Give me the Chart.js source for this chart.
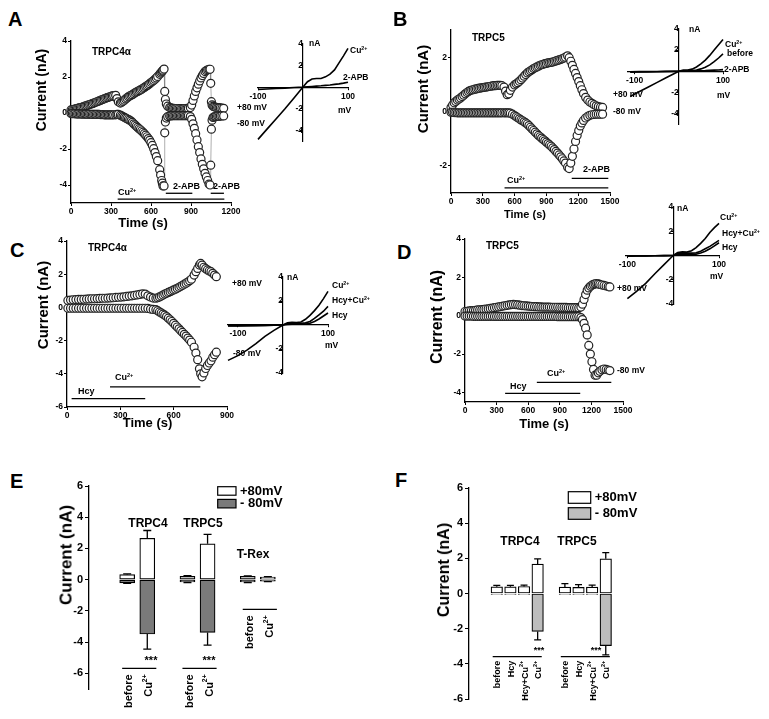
<!DOCTYPE html>
<html>
<head>
<meta charset="utf-8">
<script src="https://cdn.jsdelivr.net/npm/chart.js@4.4.1/dist/chart.umd.min.js"></script>
<style>
body{margin:0;background:#fff}
#fig{position:relative;width:769px;height:719px;overflow:hidden;background:#fff}
#fig canvas{position:absolute}
.t{position:absolute;font-family:"Liberation Sans",Arial,sans-serif;font-weight:bold;white-space:nowrap;line-height:1;color:#000}
.t sup{font-size:62%;position:relative;top:-0.5em;vertical-align:baseline;line-height:0}
</style>
</head>
<body>
<div id="fig"></div>
<script>
// ---- time courses (s, nA) ----
const tA = [0,10,20,30,40,50,60,70,80,90,100,110,120,130,140,150,160,170,180,190,200,210,220,230,240,250,260,270,280,290,300,310,320,
  335,345,355,
  370,380,390,400,410,420,430,440,450,460,470,480,490,500,510,520,530,540,550,560,570,580,590,600,610,620,630,640,650,
  665,672,680,685,690,698,
  703,708,715,725,740,
  750,760,770,780,790,800,810,820,830,840,850,860,870,880,
  895,905,915,925,935,945,955,965,975,985,995,1005,1015,1025,1035,
  1043,1048,1053,1058,1065,1072,1080,1090,1100,1110,1120,1132,1145];
const plusA = [0.17,0.18,0.2,0.22,0.24,0.26,0.28,0.3,0.32,0.34,0.37,0.4,0.42,0.44,0.47,0.5,0.52,0.55,0.58,0.61,0.64,0.67,0.7,0.73,0.76,0.79,0.82,0.85,0.87,0.9,0.92,0.95,0.97,
  0.98,0.8,0.62,
  0.55,0.6,0.65,0.71,0.78,0.84,0.9,0.94,0.98,1.02,1.07,1.12,1.16,1.2,1.24,1.28,1.32,1.37,1.42,1.47,1.52,1.57,1.63,1.69,1.75,1.81,1.88,1.95,2.03,
  2.15,2.22,2.28,2.33,2.38,2.44,
  1.2,0.75,0.5,0.38,0.3,
  0.28,0.26,0.26,0.25,0.25,0.25,0.25,0.24,0.24,0.24,0.25,0.25,0.26,0.26,
  0.3,0.44,0.7,0.95,1.2,1.4,1.6,1.78,1.95,2.08,2.2,2.3,2.36,2.4,2.42,
  2.43,1.65,0.63,0.45,0.38,0.35,0.33,0.31,0.3,0.29,0.28,0.27,0.26];
const minusA = [-0.03,-0.03,-0.04,-0.04,-0.05,-0.05,-0.05,-0.05,-0.06,-0.06,-0.06,-0.06,-0.07,-0.07,-0.07,-0.07,-0.08,-0.08,-0.08,-0.08,-0.08,-0.08,-0.09,-0.09,-0.09,-0.1,-0.1,-0.1,-0.1,-0.1,-0.1,-0.1,-0.1,
  -0.1,-0.08,-0.08,
  -0.12,-0.16,-0.2,-0.24,-0.28,-0.32,-0.36,-0.4,-0.45,-0.52,-0.6,-0.66,-0.73,-0.8,-0.87,-0.93,-1.0,-1.07,-1.15,-1.23,-1.32,-1.42,-1.52,-1.65,-1.8,-1.98,-2.2,-2.42,-2.65,
  -3.15,-3.45,-3.75,-3.9,-4.05,-4.05,
  -1.1,-0.5,-0.28,-0.2,-0.16,
  -0.16,-0.15,-0.15,-0.15,-0.15,-0.15,-0.15,-0.15,-0.15,-0.15,-0.15,-0.15,-0.15,-0.15,
  -0.2,-0.35,-0.6,-0.85,-1.15,-1.5,-1.87,-2.2,-2.55,-2.85,-3.1,-3.35,-3.55,-3.75,-3.95,
  -4.0,-2.9,-0.9,-0.4,-0.25,-0.22,-0.2,-0.19,-0.18,-0.18,-0.17,-0.16,-0.16];

const tB = [0,15,30,45,60,75,90,105,120,135,150,165,180,195,210,225,240,255,270,285,300,315,330,345,360,375,390,405,420,435,450,465,480,
  500,515,530,545,560,580,600,
  615,630,645,660,675,690,705,720,735,750,765,780,795,810,825,840,855,870,885,900,915,930,945,960,975,990,1005,1020,1035,1050,1065,1080,
  1100,1115,1130,1145,1160,1175,1190,1205,1220,1235,1250,
  1270,1290,1310,1330,1350,1370,1390,1410,1430];
const plusB = [0.15,0.24,0.32,0.37,0.42,0.46,0.5,0.55,0.6,0.65,0.7,0.74,0.77,0.79,0.8,0.82,0.83,0.85,0.86,0.87,0.88,0.89,0.9,0.91,0.92,0.93,0.94,0.95,0.95,0.96,0.96,0.96,0.95,
  0.9,0.75,0.62,0.65,0.78,0.9,0.98,
  1.02,1.06,1.11,1.17,1.23,1.3,1.36,1.42,1.46,1.5,1.54,1.58,1.61,1.64,1.67,1.7,1.72,1.74,1.76,1.77,1.79,1.8,1.81,1.82,1.84,1.86,1.88,1.9,1.92,1.94,1.97,2.0,
  2.05,1.98,1.85,1.7,1.55,1.4,1.25,1.1,0.95,0.8,0.66,
  0.52,0.42,0.35,0.3,0.25,0.21,0.18,0.16,0.15];
const minusB = [-0.03,-0.03,-0.04,-0.04,-0.05,-0.05,-0.05,-0.05,-0.05,-0.05,-0.05,-0.05,-0.05,-0.05,-0.05,-0.05,-0.05,-0.05,-0.05,-0.05,-0.05,-0.05,-0.05,-0.05,-0.05,-0.05,-0.05,-0.05,-0.05,-0.05,-0.05,-0.05,-0.05,
  -0.05,-0.05,-0.05,-0.05,-0.06,-0.1,-0.15,
  -0.19,-0.23,-0.27,-0.31,-0.34,-0.38,-0.42,-0.46,-0.52,-0.58,-0.64,-0.7,-0.76,-0.82,-0.88,-0.93,-0.98,-1.03,-1.08,-1.13,-1.18,-1.23,-1.28,-1.34,-1.4,-1.47,-1.53,-1.6,-1.67,-1.74,-1.82,-1.9,
  -2.05,-2.1,-1.9,-1.65,-1.38,-1.1,-0.88,-0.7,-0.53,-0.42,-0.33,
  -0.24,-0.18,-0.14,-0.12,-0.11,-0.1,-0.1,-0.1,-0.1];

const tC = [5,20,35,50,65,80,95,110,125,140,155,170,185,200,215,230,245,260,275,290,305,320,335,350,365,380,395,410,425,
  440,455,470,485,500,510,
  520,530,540,550,560,570,580,590,600,610,620,630,640,650,660,670,680,690,700,
  715,725,735,745,752,
  760,770,780,790,800,810,820,830,840];
const plusC = [0.42,0.44,0.46,0.47,0.48,0.48,0.49,0.5,0.51,0.52,0.52,0.53,0.54,0.55,0.55,0.56,0.57,0.58,0.6,0.61,0.62,0.64,0.66,0.68,0.7,0.73,0.75,0.78,0.82,
  0.8,0.7,0.62,0.56,0.55,0.58,
  0.63,0.68,0.74,0.8,0.85,0.9,0.95,1.0,1.05,1.1,1.15,1.21,1.27,1.33,1.4,1.46,1.53,1.61,1.7,
  1.95,2.15,2.35,2.55,2.65,
  2.55,2.42,2.33,2.26,2.2,2.15,2.05,1.95,1.85];
const minusC = [-0.05,-0.05,-0.05,-0.05,-0.05,-0.05,-0.05,-0.05,-0.05,-0.05,-0.05,-0.05,-0.05,-0.05,-0.05,-0.05,-0.05,-0.05,-0.05,-0.05,-0.05,-0.05,-0.05,-0.05,-0.05,-0.05,-0.05,-0.05,-0.05,
  -0.05,-0.06,-0.1,-0.12,-0.14,-0.2,
  -0.27,-0.33,-0.4,-0.47,-0.55,-0.65,-0.75,-0.85,-0.96,-1.07,-1.18,-1.29,-1.4,-1.51,-1.62,-1.73,-1.85,-1.97,-2.1,
  -2.4,-2.75,-3.15,-3.7,-4.0,
  -4.18,-3.95,-3.68,-3.5,-3.35,-3.22,-3.0,-2.85,-2.7];

const tD = [0,20,40,60,80,100,120,140,160,180,200,220,240,260,280,300,320,340,360,380,400,420,440,460,480,500,520,540,560,580,600,620,640,660,680,700,720,740,760,780,800,820,840,860,880,900,920,940,960,980,1000,1020,1040,1060,1080,
  1100,1115,1130,1145,1160,1175,1190,1205,1220,1235,1250,
  1265,1280,1300,1320,1340,1360,1375];
const plusD = [0.22,0.23,0.25,0.26,0.27,0.28,0.3,0.31,0.32,0.33,0.35,0.36,0.38,0.4,0.42,0.44,0.46,0.48,0.5,0.52,0.54,0.56,0.58,0.59,0.58,0.57,0.55,0.53,0.52,0.51,0.5,0.49,0.48,0.47,0.47,0.46,0.46,0.45,0.45,0.45,0.45,0.44,0.44,0.44,0.44,0.43,0.43,0.43,0.43,0.42,0.42,0.42,0.42,0.42,0.42,
  0.45,0.6,0.85,1.1,1.33,1.45,1.53,1.59,1.63,1.66,1.68,
  1.66,1.63,1.6,1.58,1.55,1.52,1.5];
const minusD = [-0.02,-0.02,-0.02,-0.02,-0.03,-0.03,-0.03,-0.03,-0.03,-0.03,-0.03,-0.03,-0.03,-0.03,
  -0.04,-0.04,-0.04,-0.04,-0.04,-0.04,-0.04,-0.04,-0.04,-0.04,-0.04,-0.04,-0.04,-0.04,-0.04,
  -0.04,-0.04,-0.04,-0.04,-0.04,-0.04,-0.04,-0.04,-0.04,-0.04,-0.04,-0.04,-0.04,-0.04,-0.04,
  -0.05,-0.05,-0.05,-0.05,-0.05,-0.05,-0.05,-0.05,-0.05,-0.05,-0.05,
  -0.1,-0.2,-0.4,-0.65,-1.0,-1.55,-2.0,-2.4,-2.8,-3.1,-3.1,
  -2.98,-2.9,-2.82,-2.78,-2.8,-2.83,-2.86];

// drug application bars: start, end (s) and level (nA)
const drugA = [{from: 350, to: 1150, at: -4.78}, {from: 711, to: 910, at: -4.46}, {from: 1048, to: 1147, at: -4.46}];
const drugB = [{from: 505, to: 1484, at: -2.81}, {from: 1139, to: 1484, at: -2.46}];
const drugC = [{from: 26, to: 440, at: -5.49}, {from: 242, to: 750, at: -4.79}];
const drugD = [{from: 381, to: 1094, at: -4.05}, {from: 682, to: 1389, at: -3.48}];

// ---- I-V insets (mV, nA) ----
const vA = [-100,-80,-60,-40,-20,0,10,20,30,40,50,60,70,80,90,100];
const cuA = [-4.85,-3.9,-2.95,-2.0,-1.0,0,0.5,0.75,0.8,0.8,0.95,1.2,1.6,2.25,2.9,3.6];
const apbA = [-0.22,-0.18,-0.13,-0.09,-0.04,0,0.03,0.06,0.09,0.12,0.16,0.2,0.25,0.3,0.37,0.45];

const vB = [-110,-90,-70,-50,-30,-10,0,10,20,30,40,50,60,70,80,90,100];
const cuB = [-2.4,-1.95,-1.52,-1.08,-0.65,-0.22,0,0.1,0.12,0.2,0.4,0.7,1.05,1.5,2.0,2.5,3.0];
const beforeB = [-0.1,-0.08,-0.07,-0.05,-0.03,-0.01,0,0.02,0.04,0.07,0.12,0.22,0.38,0.6,0.9,1.25,1.65];
const apbB = [-0.05,-0.04,-0.03,-0.02,-0.01,0,0,0.01,0.02,0.03,0.04,0.05,0.06,0.08,0.1,0.12,0.15];

const vC = [-122,-100,-80,-60,-40,-20,0,10,20,30,40,50,60,70,80,90,100];
const cuC = [-2.95,-2.55,-2.1,-1.55,-0.95,-0.45,0,0.18,0.22,0.2,0.25,0.48,0.8,1.2,1.65,2.2,2.8];
const hcyCuC = [-0.08,-0.07,-0.06,-0.05,-0.03,-0.02,0,0.1,0.14,0.14,0.14,0.18,0.3,0.55,0.85,1.15,1.55];
const hcyC = [-0.06,-0.05,-0.05,-0.04,-0.03,-0.01,0,0.05,0.07,0.07,0.07,0.09,0.15,0.3,0.5,0.75,1.0];

const vD = [-100,-80,-60,-40,-20,0,10,20,30,40,50,60,70,80,90,100];
const cuD = [-3.55,-2.95,-2.3,-1.5,-0.75,0,0.25,0.3,0.28,0.4,0.65,1.0,1.4,1.9,2.3,2.65];
const hcyCuD = [-0.05,-0.04,-0.03,-0.02,-0.01,0,0.2,0.2,0.2,0.2,0.22,0.35,0.55,0.75,1.0,1.25];
const hcyD = [-0.05,-0.04,-0.03,-0.02,-0.01,0,0.08,0.1,0.1,0.1,0.1,0.2,0.35,0.55,0.8,1.05];

// ---- summary bars (nA) ----
const groupsE = ['TRPC4', 'TRPC5', 'T-Rex'];
const condsE = ['before', 'Cu^2+'];
const pos80E = [0.32, 2.65, 0.22, 2.3, 0.22, 0.17];
const neg80E = [-0.2, -3.48, -0.15, -3.38, -0.15, -0.1];
const errPosE = [0.05, 0.5, 0.04, 0.6, 0.03, 0.03];
const errNegE = [0.03, 0.97, 0.03, 0.81, 0.03, 0.03];

const groupsF = ['TRPC4', 'TRPC5'];
const condsF = ['before', 'Hcy', 'Hcy+Cu^2+', 'Cu^2+'];
const pos80F = [0.38, 0.38, 0.4, 1.67, 0.36, 0.35, 0.36, 1.97];
const neg80F = [-0.05, -0.05, -0.05, -2.16, -0.05, -0.05, -0.05, -2.96];
const errPosF = [0.08, 0.08, 0.08, 0.3, 0.2, 0.15, 0.12, 0.36];
const errNegF = [0, 0, 0, 0.48, 0, 0, 0, 0.53];

// ---- tick labels ----
const ticksTA = [0, 300, 600, 900, 1200];
const ticksT15 = [0, 300, 600, 900, 1200, 1500];
const ticksTC = [0, 300, 600, 900];
const ticksIA = [4, 2, 0, -2, -4];
const ticksIB = [2, 0, -2];
const ticksIC = [4, 2, 0, -2, -4, -6];
const ticksV = [-100, 100];
const ticksIV = [4, 2, -2, -4];
const ticksBar = [6, 4, 2, 0, -2, -4, -6];

const FONT = '"Liberation Sans", Arial, sans-serif';
Chart.defaults.font.family = FONT;
Chart.defaults.font.weight = 'bold';
Chart.defaults.color = '#000';

const fig = document.getElementById('fig');

function addCanvas(x, y, w, h) {
  const c = document.createElement('canvas');
  x = Math.round(x); y = Math.round(y); w = Math.round(w); h = Math.round(h);
  c.width = w; c.height = h;
  c.style.left = x + 'px'; c.style.top = y + 'px';
  c.style.width = w + 'px'; c.style.height = h + 'px';
  fig.appendChild(c);
  return {c, x, y};
}

function fixedTicks(values) {
  return s => { s.ticks = values.map(v => ({value: v})); };
}

// text with an optional ^superscript, right aligned when asked
function drawRich(ctx, text, x, y, size, right) {
  const [base, sup = ''] = text.split('^');
  ctx.font = `bold ${size}px ${FONT}`;
  const wb = ctx.measureText(base).width;
  ctx.font = `bold ${size * 0.62}px ${FONT}`;
  const ws = sup ? ctx.measureText(sup).width : 0;
  const x0 = right ? x - wb - ws : x;
  ctx.textAlign = 'left';
  ctx.textBaseline = 'middle';
  ctx.font = `bold ${size}px ${FONT}`;
  ctx.fillText(base, x0, y);
  if (sup) {
    ctx.font = `bold ${size * 0.62}px ${FONT}`;
    ctx.fillText(sup, x0 + wb, y - size * 0.38);
  }
}

const errorBars = {
  id: 'errorBars',
  afterDatasetsDraw(chart, _a, o) {
    if (!o.cap) return;
    const ys = chart.scales.y, ctx = chart.ctx;
    chart.data.datasets.forEach((ds, i) => {
      chart.getDatasetMeta(i).data.forEach((bar, j) => {
        const v = ds.data[j].y, e = ds.errors[j];
        if (!e) return;
        const y1 = ys.getPixelForValue(v), y2 = ys.getPixelForValue(v + Math.sign(v) * e);
        ctx.save();
        ctx.strokeStyle = '#000';
        ctx.lineWidth = 1.3;
        ctx.beginPath();
        ctx.moveTo(bar.x, y1); ctx.lineTo(bar.x, y2);
        ctx.moveTo(bar.x - o.cap / 2, y2); ctx.lineTo(bar.x + o.cap / 2, y2);
        ctx.stroke();
        ctx.restore();
      });
    });
  }
};

const catLabels = {
  id: 'catLabels',
  afterDraw(chart, _a, o) {
    if (!o.groups) return;
    const {ctx} = chart, xs = chart.scales.x, ys = chart.scales.y, n = o.conds.length;
    ctx.save();
    ctx.strokeStyle = '#000';
    ctx.fillStyle = '#000';
    ctx.lineWidth = 1.3;
    o.groups.forEach((g, gi) => {
      const first = gi * (n + 1), yl = ys.getPixelForValue(o.lineAt[gi]);
      ctx.beginPath();
      ctx.moveTo(xs.getPixelForValue(first + o.ext[0]), yl);
      ctx.lineTo(xs.getPixelForValue(first + n - 1 + o.ext[1]), yl);
      ctx.stroke();
      o.conds.forEach((cn, ci) => {
        ctx.save();
        ctx.translate(xs.getPixelForValue(first + ci) + o.dx, yl + o.gap);
        ctx.rotate(-Math.PI / 2);
        drawRich(ctx, cn, 0, 0, o.size, true);
        ctx.restore();
      });
    });
    ctx.restore();
  }
};

const boxLegend = {
  id: 'boxLegend',
  afterDraw(chart, _a, o) {
    if (o.w == null) return;
    const ctx = chart.ctx;
    ctx.save();
    chart.data.datasets.forEach((ds, i) => {
      const y = o.y + i * o.row;
      ctx.fillStyle = ds.backgroundColor;
      ctx.fillRect(o.x, y, o.w, o.h);
      ctx.strokeStyle = '#000';
      ctx.lineWidth = 1.2;
      ctx.strokeRect(o.x, y, o.w, o.h);
      ctx.fillStyle = '#000';
      ctx.font = `bold ${o.size}px ${FONT}`;
      ctx.textAlign = 'left';
      ctx.textBaseline = 'middle';
      ctx.fillText(ds.label, o.x + o.w + 4, y + o.h / 2);
    });
    ctx.restore();
  }
};
Chart.register(errorBars, catLabels, boxLegend);

function mainAxis(range, ticks, isX, size) {
  return {
    type: 'linear', min: range[0], max: range[1],
    afterBuildTicks: fixedTicks(ticks),
    afterFit: s => { if (isX) s.height = size; else s.width = size; },
    grid: {drawOnChartArea: false, color: '#000', tickLength: 3},
    border: {color: '#000', width: 1.3},
    ticks: {font: {size: 8.5, weight: 'bold'}, color: '#000', padding: 1, maxRotation: 0, autoSkip: false, callback: v => String(v)}
  };
}

function trace(t, vals) {
  return {
    data: t.map((x, i) => ({x, y: vals[i]})),
    showLine: true, borderColor: '#777', borderWidth: 0.6,
    pointRadius: 4, pointBorderColor: '#222', pointBackgroundColor: '#fff', pointBorderWidth: 1.2, clip: false
  };
}

function drugLines(drugs) {
  return drugs.map(d => ({
    data: [{x: d.from, y: d.at}, {x: d.to, y: d.at}],
    showLine: true, borderColor: '#000', borderWidth: 1.3, pointRadius: 0, clip: false
  }));
}

function timeCourse(plot, xr, yr, xt, yt, datasets) {
  const pl = 30, pt = 12, pr = 18, pb = 16;
  const {c} = addCanvas(plot.l - pl, plot.t - pt, plot.r - plot.l + pl + pr, plot.b - plot.t + pt + pb);
  new Chart(c, {
    type: 'scatter',
    data: {datasets},
    options: {
      responsive: false, animation: false, events: [],
      layout: {padding: {left: 0, right: pr, top: pt, bottom: 0}},
      plugins: {legend: {display: false}, tooltip: {enabled: false}},
      scales: {x: mainAxis(xr, xt, true, pb), y: mainAxis(yr, yt, false, pl)}
    }
  });
}

function ivAxis(range, ticks, cross) {
  return {
    type: 'linear', min: range[0], max: range[1], position: cross,
    afterBuildTicks: fixedTicks(ticks),
    grid: {drawOnChartArea: false, color: '#000', tickLength: 2},
    border: {color: '#000', width: 1.2},
    ticks: {font: {size: 8.5, weight: 'bold'}, color: '#000', padding: 2, maxRotation: 0, autoSkip: false, callback: v => String(v)}
  };
}

function ivPlot(plot, xr, yr, v, curves) {
  const p = 24;
  const {c} = addCanvas(plot.l - p, plot.t - p, plot.r - plot.l + 2 * p, plot.b - plot.t + 2 * p);
  const datasets = curves.map(cv => ({
    label: cv.name, data: v.map((x, i) => ({x, y: cv.vals[i]})),
    showLine: true, borderColor: '#000', borderWidth: 1.6, pointRadius: 0, clip: false
  }));
  new Chart(c, {
    type: 'scatter',
    data: {datasets},
    options: {
      responsive: false, animation: false, events: [],
      layout: {padding: p},
      plugins: {legend: {display: false}, tooltip: {enabled: false}},
      scales: {x: ivAxis(xr, ticksV, {y: 0}), y: ivAxis(yr, ticksIV, {x: 0})}
    }
  });
}

function barPanel(plot, pads, xr, yr, groups, conds, series, look) {
  const {c, x: cx, y: cy} = addCanvas(plot.l - pads.l, plot.t - pads.t,
    plot.r - plot.l + pads.l + pads.r, plot.b - plot.t + pads.t + pads.b);
  const slots = [];
  groups.forEach((g, gi) => conds.forEach((cn, ci) => slots.push(gi * (conds.length + 1) + ci)));
  const datasets = series.map(s => ({
    label: s.name, data: s.vals.map((v, i) => ({x: slots[i], y: v})), errors: s.err,
    backgroundColor: s.color, borderColor: '#000', borderWidth: 1.2, borderSkipped: false, barThickness: look.barW
  }));
  new Chart(c, {
    type: 'bar',
    data: {datasets},
    options: {
      responsive: false, animation: false, events: [],
      layout: {padding: {left: 0, right: pads.r, top: pads.t, bottom: pads.b}},
      plugins: {
        legend: {display: false}, tooltip: {enabled: false},
        errorBars: {cap: look.cap},
        catLabels: {groups, conds, lineAt: look.lineAt, ext: look.ext, gap: look.gap, size: look.labelSize, dx: look.dx},
        boxLegend: {x: look.legend.x - cx, y: look.legend.y - cy, w: look.legend.w, h: look.legend.h, row: look.legend.row, size: 13}
      },
      scales: {
        x: {type: 'linear', display: false, min: xr[0], max: xr[1], offset: false, stacked: true},
        y: {
          type: 'linear', min: yr[0], max: yr[1], stacked: true,
          afterBuildTicks: fixedTicks(ticksBar),
          afterFit: s => { s.width = pads.l; },
          grid: {drawOnChartArea: false, color: '#000', tickLength: 4},
          border: {color: '#000', width: 1.3},
          ticks: {font: {size: 11, weight: 'bold'}, color: '#000', padding: 2, autoSkip: false, callback: v => String(v)}
        }
      }
    }
  });
}

// A-D time courses
timeCourse({l: 70.7, r: 231, t: 41, b: 203}, [0, 1200], [-5, 4], ticksTA, ticksIA,
  [trace(tA, minusA), trace(tA, plusA), ...drugLines(drugA)]);
timeCourse({l: 450.7, r: 610, t: 29.6, b: 193}, [0, 1500], [-3, 3], ticksT15, ticksIB,
  [trace(tB, minusB), trace(tB, plusB), ...drugLines(drugB)]);
timeCourse({l: 67, r: 226.7, t: 241, b: 406.7}, [0, 900], [-6, 4], ticksTC, ticksIC,
  [trace(tC, minusC), trace(tC, plusC), ...drugLines(drugC)]);
timeCourse({l: 465, r: 622.7, t: 239, b: 401.7}, [0, 1500], [-4.5, 4], ticksT15, ticksIA,
  [trace(tD, minusD), trace(tD, plusD), ...drugLines(drugD)]);

// I-V insets
ivPlot({l: 258, r: 348, t: 43.7, b: 140.7}, [-100, 100], [-5, 4], vA,
  [{name: 'Cu2+', vals: cuA}, {name: '2-APB', vals: apbA}]);
ivPlot({l: 628.4, r: 723, t: 29.3, b: 123.8}, [-115, 100], [-5, 4], vB,
  [{name: 'Cu2+', vals: cuB}, {name: 'before', vals: beforeB}, {name: '2-APB', vals: apbB}]);
ivPlot({l: 228.4, r: 328.3, t: 276.7, b: 372.7}, [-122, 100], [-4, 4], vC,
  [{name: 'Cu2+', vals: cuC}, {name: 'Hcy+Cu2+', vals: hcyCuC}, {name: 'Hcy', vals: hcyC}]);
ivPlot({l: 626.1, r: 719.1, t: 206.7, b: 303.3}, [-103, 100], [-4, 4], vD,
  [{name: 'Cu2+', vals: cuD}, {name: 'Hcy+Cu2+', vals: hcyCuD}, {name: 'Hcy', vals: hcyD}]);

// E, F summaries
barPanel({l: 88.9, r: 297.6, t: 485.7, b: 688.3}, {l: 28, t: 20, r: 82, b: 30}, [-1.9, 8.5], [-7, 6],
  groupsE, condsE,
  [{name: '+80mV', vals: pos80E, err: errPosE, color: '#ffffff'},
   {name: '- 80mV', vals: neg80E, err: errNegE, color: '#7a7a7a'}],
  {barW: 15, cap: 8, lineAt: [-5.68, -5.68, -1.9], ext: [-0.25, 0.45], gap: 6, labelSize: 11, dx: 2,
   legend: {x: 217.7, y: 486.7, w: 18.3, h: 8.5, row: 12.7}});
barPanel({l: 469.3, r: 633, t: 488.3, b: 699}, {l: 28, t: 20, r: 136, b: 20}, [-2.04, 10], [-6, 6],
  groupsF, condsF,
  [{name: '+80mV', vals: pos80F, err: errPosF, color: '#ffffff'},
   {name: '- 80mV', vals: neg80F, err: errNegF, color: '#bdbdbd'}],
  {barW: 11.5, cap: 7, lineAt: [-3.59, -3.59], ext: [-0.3, 0.3], gap: 4, labelSize: 9, dx: 1,
   legend: {x: 568.3, y: 491.7, w: 22.4, h: 11.6, row: 16}});

// text: [html, x, y(center), size, mode]  mode: l = left, c = centred, r = rotated
const notes = [
  ['A', 8, 19, 20], ['B', 393, 19, 20], ['C', 10, 250, 20], ['D', 397, 252, 20], ['E', 10, 481, 20], ['F', 395, 480, 20],
  ['TRPC4α', 92, 52, 10], ['+80 mV', 237, 107, 8.5], ['-80 mV', 237, 123, 8.5],
  ['Cu<sup>2+</sup>', 118, 192, 9], ['2-APB', 173, 186, 9], ['2-APB', 213, 186, 9],
  ['nA', 309, 43, 8.5], ['mV', 338, 110, 8.5], ['Cu<sup>2+</sup>', 350, 50, 8.5], ['2-APB', 343, 77, 8.5],
  ['TRPC5', 472, 38, 10], ['+80 mV', 613, 94, 8.5], ['-80 mV', 613, 111, 8.5],
  ['Cu<sup>2+</sup>', 507, 180, 9], ['2-APB', 583, 169, 9],
  ['nA', 689, 29, 8.5], ['mV', 717, 95, 8.5], ['Cu<sup>2+</sup>', 725, 44, 8.5], ['before', 727, 53, 8.5], ['2-APB', 724, 69, 8.5],
  ['TRPC4α', 88, 248, 10], ['+80 mV', 232, 283, 8.5], ['-80 mV', 233, 353, 8.5],
  ['Hcy', 78, 391, 9], ['Cu<sup>2+</sup>', 115, 377, 9],
  ['nA', 287, 277, 8.5], ['mV', 325, 345, 8.5], ['Cu<sup>2+</sup>', 332, 285, 8.5], ['Hcy+Cu<sup>2+</sup>', 332, 300, 8.5], ['Hcy', 332, 315, 8.5],
  ['TRPC5', 486, 246, 10], ['+80 mV', 617, 288, 8.5], ['-80 mV', 617, 370, 8.5],
  ['Hcy', 510, 386, 9], ['Cu<sup>2+</sup>', 547, 373, 9],
  ['nA', 677, 208, 8.5], ['mV', 710, 276, 8.5], ['Cu<sup>2+</sup>', 720, 217, 8.5], ['Hcy+Cu<sup>2+</sup>', 722, 233, 8.5], ['Hcy', 722, 247, 8.5],
  ['TRPC4', 148, 523, 12, 'c'], ['TRPC5', 203, 523, 12, 'c'], ['T-Rex', 253, 554, 12, 'c'],
  ['***', 151, 660, 11, 'c'], ['***', 209, 660, 11, 'c'],
  ['TRPC4', 520, 541, 12, 'c'], ['TRPC5', 577, 541, 12, 'c'], ['***', 539, 650, 9, 'c'], ['***', 596, 650, 9, 'c'],
  ['Current (nA)', 41, 90, 14, 'r'], ['Current (nA)', 422, 89, 15, 'r'], ['Current (nA)', 41.7, 305, 15, 'r'],
  ['Current (nA)', 436.7, 317, 16, 'r'], ['Current (nA)', 66, 555, 17, 'r'], ['Current (nA)', 444, 570, 16, 'r'],
  ['Time (s)', 143, 222, 13, 'c'], ['Time (s)', 525, 214, 11, 'c'], ['Time (s)', 147.5, 421.7, 13, 'c'], ['Time (s)', 544, 423, 13, 'c']
];
notes.forEach(([html, x, y, size, mode]) => {
  const d = document.createElement('div');
  d.className = 't';
  d.innerHTML = html;
  d.style.left = x + 'px';
  d.style.top = y + 'px';
  d.style.fontSize = size + 'px';
  d.style.transform = mode === 'c' ? 'translate(-50%,-50%)'
    : mode === 'r' ? 'translate(-50%,-50%) rotate(-90deg)' : 'translateY(-50%)';
  fig.appendChild(d);
});
</script>
</body>
</html>
